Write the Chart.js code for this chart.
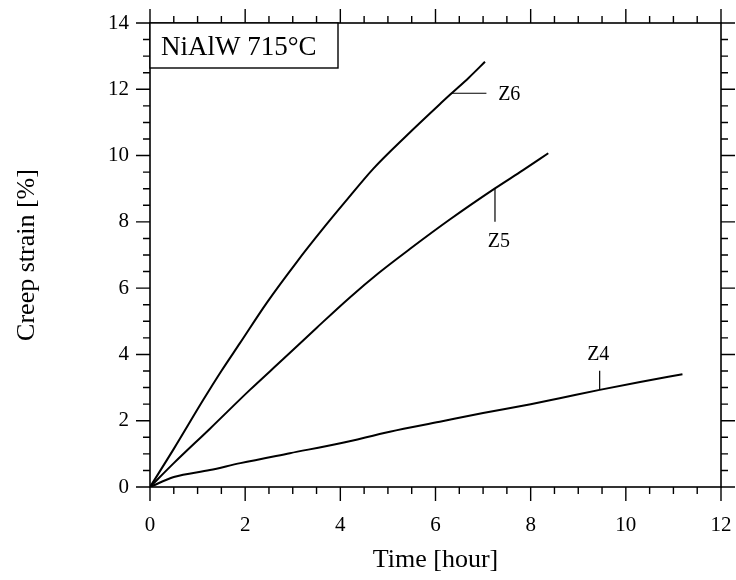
<!DOCTYPE html>
<html>
<head>
<meta charset="utf-8">
<script src="https://cdn.jsdelivr.net/npm/chart.js@4.4.1/dist/chart.umd.min.js"></script>
<style>
  html, body { margin: 0; padding: 0; background: #fff; }
  #wrap { width: 736px; height: 580px; }
</style>
</head>
<body>
<div id="wrap"><canvas id="myChart" width="736" height="580"></canvas></div>
<script>
'use strict';

// data
let z4Time = [0, 0.5, 1.26, 1.9, 2.94, 4, 5.04, 6.09, 7, 8, 8.61, 9.45, 10.3, 11.19];
let z4Strain = [0, 0.3, 0.51, 0.72, 1.02, 1.32, 1.67, 1.97, 2.23, 2.5, 2.68, 2.93, 3.17, 3.40];

let z5Time = [0, 0.5, 1.26, 2.1, 2.8, 3.5, 4.2, 4.8, 5.46, 6.3, 7.25, 7.84, 8.37];
let z5Strain = [0, 0.72, 1.76, 2.93, 3.86, 4.8, 5.72, 6.45, 7.18, 8.07, 9.01, 9.56, 10.07];

let z6Time = [0, 0.5, 1.12, 1.5, 1.89, 2.45, 3.08, 3.64, 4.1, 4.69, 5.39, 6.09, 6.34, 6.7, 7.04];
let z6Strain = [0, 1.15, 2.63, 3.5, 4.34, 5.55, 6.78, 7.8, 8.6, 9.6, 10.6, 11.55, 11.88, 12.35, 12.83];

let xTicks = [0, 2, 4, 6, 8, 10, 12];
let yTicks = [0, 2, 4, 6, 8, 10, 12, 14];

// curve labels: name, leader start (on curve), leader end, text centre
let labelNames = ['Z4', 'Z5', 'Z6'];
let leaderFrom = [[9.45, 2.93], [7.25, 9.01], [6.34, 11.88]];
let leaderTo = [[9.45, 3.51], [7.25, 8.0], [7.07, 11.88]];
let labelAt = [[9.42, 3.98], [7.33, 7.41], [7.55, 11.83]];

let boxTitle = 'NiAlW 715°C';

const serif = '"Liberation Serif", "DejaVu Serif", serif';

function toPoints(xs, ys) {
  let pts = [];
  for (let i = 0; i < xs.length; i++) {
    pts.push({ x: xs[i], y: ys[i] });
  }
  return pts;
}

function makeSeries(name, xs, ys) {
  return {
    label: name,
    data: toPoints(xs, ys),
    showLine: true,
    borderColor: '#000',
    borderWidth: 2,
    pointRadius: 0,
    cubicInterpolationMode: 'monotone',
    fill: false
  };
}

// frame, minor/major ticks, curve labels and the title box
const decorations = {
  id: 'decorations',
  afterDraw(chart) {
    let ctx = chart.ctx;
    let area = chart.chartArea;
    let xs = chart.scales.x;
    let ys = chart.scales.y;
    ctx.save();
    ctx.strokeStyle = '#000';
    ctx.fillStyle = '#000';

    ctx.lineWidth = 1.6;
    ctx.strokeRect(area.left, area.top, area.right - area.left, area.bottom - area.top);

    ctx.lineWidth = 1.4;
    ctx.beginPath();
    for (let v = 0; v <= 12.001; v += 0.5) {
      let px = xs.getPixelForValue(v);
      let len = (Math.abs(v % 2) < 0.01) ? 14 : 7;
      ctx.moveTo(px, area.bottom);
      ctx.lineTo(px, area.bottom + len);
      ctx.moveTo(px, area.top);
      ctx.lineTo(px, area.top - len);
    }
    for (let v = 0; v <= 14.001; v += 0.5) {
      let py = ys.getPixelForValue(v);
      let len = (Math.abs(v % 2) < 0.01) ? 14 : 7;
      ctx.moveTo(area.left, py);
      ctx.lineTo(area.left - len, py);
      ctx.moveTo(area.right, py);
      ctx.lineTo(area.right + len, py);
    }
    ctx.stroke();

    // leaders + names
    ctx.lineWidth = 1.2;
    ctx.font = '20px ' + serif;
    ctx.textAlign = 'center';
    ctx.textBaseline = 'middle';
    for (let i = 0; i < labelNames.length; i++) {
      ctx.beginPath();
      ctx.moveTo(xs.getPixelForValue(leaderFrom[i][0]), ys.getPixelForValue(leaderFrom[i][1]));
      ctx.lineTo(xs.getPixelForValue(leaderTo[i][0]), ys.getPixelForValue(leaderTo[i][1]));
      ctx.stroke();
      ctx.fillText(labelNames[i], xs.getPixelForValue(labelAt[i][0]), ys.getPixelForValue(labelAt[i][1]));
    }

    // title box in the upper left corner
    ctx.lineWidth = 1.4;
    ctx.fillStyle = '#fff';
    ctx.fillRect(area.left, area.top, 188, 45);
    ctx.strokeRect(area.left, area.top, 188, 45);
    ctx.fillStyle = '#000';
    ctx.font = '27px ' + serif;
    ctx.textAlign = 'left';
    ctx.textBaseline = 'alphabetic';
    ctx.fillText(boxTitle, area.left + 11, area.top + 32);

    ctx.restore();
  }
};

let chartObject = {
  type: 'scatter',
  data: {
    datasets: [
      makeSeries('Z4', z4Time, z4Strain),
      makeSeries('Z5', z5Time, z5Strain),
      makeSeries('Z6', z6Time, z6Strain)
    ]
  },
  options: {
    responsive: false,
    animation: false,
    layout: { padding: { left: 0, top: 23, right: 15, bottom: 0 } },
    plugins: {
      legend: { display: false },
      tooltip: { enabled: false }
    },
    scales: {
      x: {
        type: 'linear',
        position: 'bottom',
        min: 0,
        max: 12,
        afterBuildTicks(scale) {
          scale.ticks = xTicks.map(v => ({ value: v }));
        },
        afterFit(scale) {
          scale.height = 93;
          scale.paddingLeft = 0;
          scale.paddingRight = 0;
        },
        grid: { drawOnChartArea: false, drawTicks: false },
        border: { display: false },
        ticks: {
          color: '#000',
          padding: 26,
          maxRotation: 0,
          font: { family: serif, size: 21 }
        },
        title: {
          display: true,
          text: 'Time [hour]',
          color: '#000',
          font: { family: serif, size: 26 },
          padding: { top: 0, bottom: 4 }
        }
      },
      y: {
        type: 'linear',
        min: 0,
        max: 14,
        afterBuildTicks(scale) {
          scale.ticks = yTicks.map(v => ({ value: v }));
        },
        afterFit(scale) {
          scale.width = 150;
          scale.paddingTop = 0;
          scale.paddingBottom = 0;
        },
        grid: { drawOnChartArea: false, drawTicks: false },
        border: { display: false },
        ticks: {
          color: '#000',
          padding: 21,
          font: { family: serif, size: 21 }
        },
        title: {
          display: true,
          text: 'Creep strain [%]',
          color: '#000',
          font: { family: serif, size: 26 },
          padding: { top: 12, bottom: 12 }
        }
      }
    }
  },
  plugins: [decorations]
};

let ctx = document.getElementById('myChart').getContext('2d');
let myChart = new Chart(ctx, chartObject);
</script>
</body>
</html>
